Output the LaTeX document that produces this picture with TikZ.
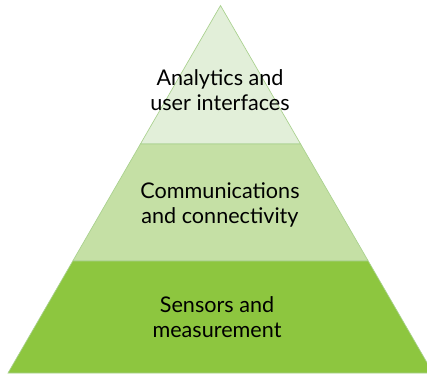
\documentclass[tikz,border=0pt]{standalone}
\usepackage{fontspec}
\setmainfont{Lato}
\definecolor{layertop}{HTML}{E2EFD9}
\definecolor{layermid}{HTML}{C5E0A5}
\definecolor{layerbot}{HTML}{8DC63F}
\definecolor{layerline}{HTML}{A9D18E}
\tikzset{
  layer/.style={draw=layerline,line width=0.5pt},
  label/.style={align=center,text=black}
}
\begin{document}
\begin{tikzpicture}[x=0.75pt,y=-0.75pt,font=\fontsize{16.2}{18.6}\selectfont]
\useasboundingbox (0,0) rectangle (427,375);
\clip (0,0) rectangle (427,375);
\pgfmathsetmacro{\ax}{220.5}
\pgfmathsetmacro{\ay}{5.5}
\pgfmathsetmacro{\k}{212.5/(373-\ay)}
\pgfmathsetmacro{\ya}{\ay}
\pgfmathsetmacro{\yb}{144}
\pgfmathsetmacro{\wa}{\k*(\ya-\ay)}
\pgfmathsetmacro{\wb}{\k*(\yb-\ay)}
\draw[layer,fill=layertop](\ax-\wa,\ya)--(\ax+\wa,\ya)--(\ax+\wb,\yb)--(\ax-\wb,\yb)--cycle;
\pgfmathsetmacro{\ya}{144}
\pgfmathsetmacro{\yb}{261}
\pgfmathsetmacro{\wa}{\k*(\ya-\ay)}
\pgfmathsetmacro{\wb}{\k*(\yb-\ay)}
\draw[layer,fill=layermid](\ax-\wa,\ya)--(\ax+\wa,\ya)--(\ax+\wb,\yb)--(\ax-\wb,\yb)--cycle;
\pgfmathsetmacro{\ya}{261}
\pgfmathsetmacro{\yb}{373}
\pgfmathsetmacro{\wa}{\k*(\ya-\ay)}
\pgfmathsetmacro{\wb}{\k*(\yb-\ay)}
\draw[layer,fill=layerbot](\ax-\wa,\ya)--(\ax+\wa,\ya)--(\ax+\wb,\yb)--(\ax-\wb,\yb)--cycle;
\node[label] (analytics) at (220,90) {Analytics and\\user interfaces};
\node[label] (comms) at (220,205) {Communications\\and connectivity};
\node[label] (sensors) at (217,317) {Sensors and\\measurement};
\end{tikzpicture}
\end{document}
